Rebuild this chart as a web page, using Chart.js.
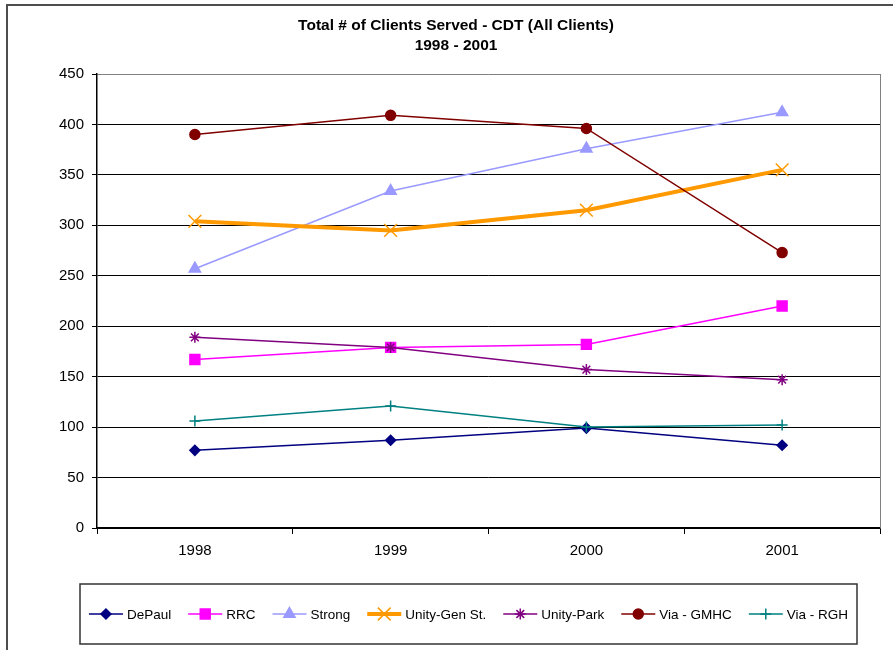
<!DOCTYPE html>
<html>
<head>
<meta charset="utf-8">
<script src="https://cdn.jsdelivr.net/npm/chart.js@4/dist/chart.umd.min.js"></script>
<style>
  html, body { margin: 0; padding: 0; background: #fff; }
  canvas { display: block; }
</style>
</head>
<body>
<canvas id="c" width="893" height="650"></canvas>
<script>
// Categories and series values
const years = ['1998', '1999', '2000', '2001'];
const dePaul = [77, 87, 99, 82];
const rrc = [167, 179, 182, 220];
const strong = [257, 334, 376, 412];
const unityGen = [304, 295, 315, 355];
const unityPark = [189, 179, 157, 147];
const viaGmhc = [390, 409, 396, 273];
const viaRgh = [106, 121, 100, 102];
const yTicks = [0, 50, 100, 150, 200, 250, 300, 350, 400, 450];
const titleLines = ['Total # of Clients Served - CDT (All Clients)', '1998 - 2001'];

const FONT = '"Liberation Sans", Arial, Helvetica, sans-serif';

function series(label, data, color, pointStyle, radius, width) {
  return {
    label, data,
    borderColor: color,
    backgroundColor: color,
    pointBackgroundColor: color,
    pointBorderColor: color,
    pointStyle,
    pointRadius: radius,
    pointHoverRadius: radius,
    pointBorderWidth: 1.5,
    borderWidth: width,
    tension: 0,
    fill: false
  };
}

const datasets = [
  series('DePaul', dePaul, '#000080', 'rectRot', 5, 1.5),
  series('RRC', rrc, '#FF00FF', 'rect', 7, 1.5),
  series('Strong', strong, '#9999FF', 'triangle', 6.5, 1.5),
  series('Unity-Gen St.', unityGen, '#FF9900', 'crossRot', 9, 4),
  series('Unity-Park', unityPark, '#800080', 'star', 5.5, 1.5),
  series('Via - GMHC', viaGmhc, '#800000', 'circle', 5, 1.5),
  series('Via - RGH', viaRgh, '#008080', 'cross', 5.5, 1.5)
];
// later series sit on top of earlier ones
datasets.forEach((d, i) => { d.order = datasets.length - i; });

// Frame, title, plot border and legend box
const decorations = {
  id: 'decorations',
  beforeDraw(chart) {
    const ctx = chart.ctx;
    ctx.save();
    ctx.fillStyle = '#fff';
    ctx.fillRect(0, 0, chart.width, chart.height);
    ctx.strokeStyle = '#4d4d4d';
    ctx.lineWidth = 2;
    ctx.strokeRect(7, 5, chart.width + 20, chart.height + 20);
    ctx.restore();
  },
  afterDraw(chart) {
    const ctx = chart.ctx;
    const area = chart.chartArea;
    ctx.save();
    // title
    ctx.fillStyle = '#000';
    ctx.font = 'bold 15.5px ' + FONT;
    ctx.textAlign = 'center';
    ctx.textBaseline = 'middle';
    ctx.fillText(titleLines[0], 456, 26);
    ctx.fillText(titleLines[1], 456, 46);

    // right plot border
    ctx.strokeStyle = '#808080';
    ctx.lineWidth = 1;
    ctx.beginPath();
    ctx.moveTo(Math.round(area.right) + 0.5, area.top);
    ctx.lineTo(Math.round(area.right) + 0.5, area.bottom);
    ctx.stroke();

    // legend
    const box = { l: 80, t: 584, r: 857, b: 644 };
    ctx.strokeStyle = '#333';
    ctx.lineWidth = 1.5;
    ctx.strokeRect(box.l, box.t, box.r - box.l, box.b - box.t);
    ctx.font = '13.5px ' + FONT;
    ctx.textAlign = 'left';
    const lineLen = 34, gapText = 4, gapItem = 17;
    const widths = datasets.map(d => ctx.measureText(d.label).width);
    const total = widths.reduce((s, w) => s + lineLen + gapText + w, 0) + gapItem * (datasets.length - 1);
    let x = (box.l + box.r) / 2 - total / 2;
    const y = (box.t + box.b) / 2;
    datasets.forEach((d, i) => {
      ctx.strokeStyle = d.borderColor;
      ctx.lineWidth = d.borderWidth;
      ctx.beginPath();
      ctx.moveTo(x, y);
      ctx.lineTo(x + lineLen, y);
      ctx.stroke();
      ctx.fillStyle = d.borderColor;
      ctx.lineWidth = d.pointBorderWidth;
      Chart.helpers.drawPoint(ctx, {
        pointStyle: d.pointStyle,
        radius: d.pointRadius,
        rotation: 0,
        borderWidth: d.pointBorderWidth
      }, x + lineLen / 2, y);
      ctx.fillStyle = '#000';
      ctx.fillText(d.label, x + lineLen + gapText, y + 1);
      x += lineLen + gapText + widths[i] + gapItem;
    });
    ctx.restore();
  }
};

new Chart(document.getElementById('c'), {
  type: 'line',
  data: { labels: years, datasets },
  plugins: [decorations],
  options: {
    responsive: false,
    devicePixelRatio: 1,
    animation: false,
    layout: { padding: { top: 74, right: 13, bottom: 0, left: 0 } },
    plugins: {
      legend: { display: false },
      title: { display: false },
      tooltip: { enabled: false }
    },
    scales: {
      x: {
        offset: true,
        grid: {
          offset: true,
          drawOnChartArea: false,
          drawTicks: true,
          tickLength: 6,
          color: '#000'
        },
        border: { color: '#000', width: 1.5 },
        ticks: {
          color: '#000',
          font: { family: FONT, size: 15 },
          padding: 8,
          maxRotation: 0
        },
        afterFit(scale) { scale.height = 122; }
      },
      y: {
        min: 0,
        max: 450,
        afterBuildTicks(scale) { scale.ticks = yTicks.map(v => ({ value: v })); },
        grid: {
          color: ctx => (ctx.tick && ctx.tick.value === 450 ? '#808080' : '#000'),
          lineWidth: 1,
          tickLength: 5,
          tickColor: '#000'
        },
        border: { color: '#000', width: 1.5 },
        ticks: {
          color: '#000',
          font: { family: FONT, size: 15 },
          padding: 8
        },
        afterFit(scale) { scale.width = 97; }
      }
    }
  }
});
</script>
</body>
</html>
